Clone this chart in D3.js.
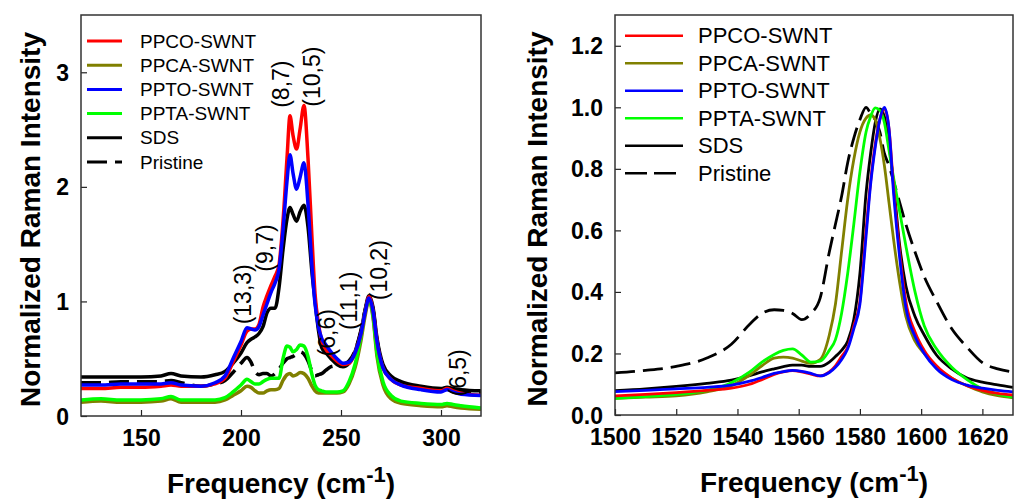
<!DOCTYPE html>
<html>
<head>
<meta charset="utf-8">
<script src="https://cdn.jsdelivr.net/npm/d3@7"></script>
<style>
  html, body { margin: 0; padding: 0; background: #fff; }
  svg { display: block; font-family: "Liberation Sans", Arial, sans-serif; }
</style>
</head>
<body>
<svg id="chart" width="1014" height="500"></svg>
<script>
// ---- Series names and colours ----
const seriesNames = ["PPCO-SWNT", "PPCA-SWNT", "PPTO-SWNT", "PPTA-SWNT", "SDS", "Pristine"];
const seriesColors = ["#ff0000", "#808000", "#0000ff", "#00ff00", "#000000", "#000000"];
const seriesDashed = [false, false, false, false, false, true];

// ---- RBM region (left panel) ----
const rbmShift = [120,130,140,150,160,165,170,180,187,192,196,200,203,205,207,209,211,213,215,217,219,221,223,224.5,226,227.8,229.5,231.5,233.5,235.5,237,238.7,240.3,242.5,245,248,251,254,257,260,262,264,266,268,271,275,280,290,300,303,306,310,320];
const ppcoRbm = [0.24,0.24,0.25,0.25,0.26,0.27,0.26,0.26,0.28,0.33,0.47,0.62,0.74,0.76,0.76,0.80,0.95,1.05,1.14,1.22,1.32,1.70,2.25,2.62,2.45,2.33,2.50,2.71,2.25,1.55,1.07,0.81,0.66,0.58,0.53,0.48,0.45,0.46,0.55,0.72,0.90,1.04,0.92,0.65,0.42,0.32,0.27,0.24,0.22,0.24,0.22,0.20,0.18];
const ppcaRbm = [0.12,0.13,0.12,0.12,0.13,0.15,0.12,0.12,0.12,0.14,0.18,0.22,0.26,0.25,0.22,0.20,0.20,0.22,0.23,0.23,0.24,0.31,0.36,0.37,0.35,0.36,0.38,0.37,0.33,0.26,0.22,0.20,0.20,0.20,0.20,0.20,0.21,0.28,0.42,0.66,0.87,1.01,0.86,0.52,0.27,0.15,0.11,0.09,0.08,0.09,0.08,0.07,0.06];
const pptoRbm = [0.27,0.27,0.28,0.28,0.28,0.29,0.27,0.26,0.29,0.35,0.50,0.65,0.77,0.76,0.75,0.78,0.88,0.98,1.08,1.16,1.28,1.62,2.05,2.28,2.12,1.98,2.08,2.21,1.85,1.30,0.98,0.78,0.68,0.62,0.56,0.50,0.46,0.47,0.55,0.72,0.90,1.03,0.92,0.65,0.42,0.32,0.27,0.23,0.21,0.23,0.21,0.19,0.18];
const pptaRbm = [0.14,0.15,0.14,0.14,0.15,0.17,0.14,0.14,0.14,0.16,0.21,0.27,0.32,0.30,0.28,0.28,0.30,0.32,0.33,0.33,0.33,0.50,0.61,0.60,0.56,0.58,0.62,0.61,0.52,0.36,0.27,0.23,0.22,0.21,0.21,0.21,0.22,0.30,0.45,0.70,0.90,1.02,0.88,0.55,0.30,0.18,0.13,0.11,0.10,0.11,0.10,0.09,0.07];
const sdsRbm  = [0.34,0.34,0.34,0.34,0.35,0.37,0.35,0.34,0.36,0.39,0.46,0.55,0.64,0.67,0.69,0.72,0.78,0.90,0.94,0.94,1.12,1.45,1.72,1.82,1.76,1.70,1.78,1.84,1.65,1.25,1.01,0.75,0.60,0.55,0.50,0.45,0.43,0.46,0.56,0.74,0.92,1.05,0.95,0.68,0.45,0.35,0.30,0.26,0.24,0.25,0.24,0.23,0.22];
const pristineRbm = [0.29,0.29,0.30,0.30,0.30,0.31,0.29,0.26,0.28,0.31,0.38,0.46,0.51,0.47,0.39,0.36,0.37,0.37,0.35,0.37,0.41,0.46,0.50,0.51,0.52,0.54,0.56,0.54,0.48,0.39,0.35,0.36,0.37,0.40,0.43,0.44,0.45,0.48,0.57,0.75,0.92,1.03,0.93,0.66,0.43,0.33,0.28,0.24,0.22,0.23,0.22,0.21,0.20];
const rbmSeries = [ppcoRbm, ppcaRbm, pptoRbm, pptaRbm, sdsRbm, pristineRbm];

const rbmTicksX = [150, 200, 250, 300];
const rbmTicksY = [0, 1, 2, 3];

// chirality assignments (n,m) written beside the RBM bands
const chiralityText  = ["(13,3)", "(9,7)", "(8,7)", "(10,5)", "(6,6)", "(11,1)", "(10,2)", "(6,5)"];
const chiralityShift = [201, 212, 220, 235.5, 243, 254, 269, 308.5];
const chiralityLevel = [0.80, 1.26, 2.69, 2.70, 0.52, 0.75, 1.01, 0.17];

// ---- G band region (right panel) ----
const gShift = [1500,1510,1520,1530,1538,1544,1548,1552,1555,1558,1561,1564,1567,1570,1572,1574,1576,1578,1580,1582,1583.5,1585,1586.5,1588,1589.5,1591,1593,1595,1598,1601,1605,1610,1615,1620,1625,1630];
const ppcoG = [0.062,0.067,0.073,0.080,0.087,0.100,0.115,0.132,0.140,0.144,0.140,0.133,0.127,0.140,0.160,0.190,0.220,0.290,0.370,0.600,0.760,0.880,0.960,0.995,0.930,0.740,0.530,0.370,0.270,0.210,0.160,0.120,0.095,0.080,0.070,0.065];
const ppcaG = [0.054,0.058,0.062,0.075,0.095,0.130,0.160,0.185,0.188,0.185,0.175,0.168,0.180,0.260,0.360,0.530,0.700,0.830,0.920,0.965,0.975,0.960,0.900,0.810,0.690,0.570,0.430,0.320,0.240,0.200,0.155,0.120,0.095,0.075,0.063,0.056];
const pptoG = [0.076,0.080,0.085,0.090,0.097,0.110,0.122,0.135,0.141,0.145,0.142,0.135,0.127,0.138,0.155,0.180,0.215,0.280,0.360,0.580,0.750,0.870,0.960,1.000,0.930,0.720,0.510,0.350,0.255,0.200,0.150,0.115,0.097,0.087,0.080,0.075];
const pptaG = [0.054,0.060,0.067,0.080,0.105,0.140,0.172,0.197,0.210,0.215,0.195,0.172,0.175,0.210,0.245,0.330,0.460,0.620,0.790,0.920,0.970,0.998,0.990,0.950,0.860,0.770,0.660,0.550,0.400,0.290,0.215,0.155,0.115,0.085,0.068,0.058];
const sdsG  = [0.079,0.085,0.093,0.103,0.113,0.128,0.140,0.150,0.157,0.162,0.162,0.158,0.158,0.172,0.190,0.210,0.240,0.310,0.460,0.720,0.850,0.950,0.995,0.970,0.880,0.750,0.550,0.420,0.320,0.260,0.195,0.150,0.120,0.107,0.098,0.090];
const pristineG = [0.137,0.145,0.158,0.185,0.230,0.295,0.330,0.342,0.340,0.330,0.310,0.330,0.380,0.530,0.620,0.710,0.820,0.900,0.960,1.000,0.980,0.960,0.920,0.850,0.810,0.760,0.690,0.620,0.530,0.450,0.370,0.280,0.220,0.170,0.150,0.140];
const gSeries = [ppcoG, ppcaG, pptoG, pptaG, sdsG, pristineG];

const gTicksX = [1500, 1520, 1540, 1560, 1580, 1600, 1620];
const gTicksY = [0, 0.2, 0.4, 0.6, 0.8, 1.0, 1.2];

const svg = d3.select("#chart");

function drawPanel(cfg) {
  const x = d3.scaleLinear().domain(cfg.xDomain).range([cfg.left, cfg.right]);
  const y = d3.scaleLinear().domain(cfg.yDomain).range([cfg.bottom, cfg.top]);
  const g = svg.append("g");

  const clipId = "clip-" + cfg.id;
  svg.append("defs").append("clipPath").attr("id", clipId)
    .append("rect").attr("x", cfg.left).attr("y", cfg.top)
    .attr("width", cfg.right - cfg.left).attr("height", cfg.bottom - cfg.top);

  // spectra
  const line = d3.line().curve(d3.curveMonotoneX)
    .x(d => x(d[0])).y(d => y(d[1]));
  const plot = g.append("g").attr("clip-path", `url(#${clipId})`);
  // draw order: dashed and black first, coloured on top
  const order = [5, 4, 1, 3, 0, 2];
  order.forEach(i => {
    const pts = cfg.xs.map((v, k) => [v, cfg.series[i][k]]);
    plot.append("path")
      .attr("d", line(pts))
      .attr("fill", "none")
      .attr("stroke", seriesColors[i])
      .attr("stroke-width", cfg.lineWidth)
      .attr("stroke-linejoin", "round")
      .attr("stroke-dasharray", seriesDashed[i] ? cfg.dash : null);
  });

  // axes with inward ticks
  const xAxis = d3.axisBottom(x).tickValues(cfg.ticksX).tickFormat(cfg.fmtX)
    .tickSizeInner(-6).tickSizeOuter(0).tickPadding(14);
  const yAxis = d3.axisLeft(y).tickValues(cfg.ticksY).tickFormat(cfg.fmtY)
    .tickSizeInner(-6).tickSizeOuter(0).tickPadding(12);

  const gx = g.append("g").attr("transform", `translate(0,${cfg.bottom})`).call(xAxis);
  const gy = g.append("g").attr("transform", `translate(${cfg.left},0)`).call(yAxis);
  [gx, gy].forEach(a => {
    a.select(".domain").remove();
    a.selectAll(".tick line").attr("stroke", "#222").attr("stroke-width", 1.2);
    a.selectAll(".tick text").attr("fill", "#000")
      .style("font-family", '"Liberation Sans", Arial, sans-serif')
      .style("font-weight", "bold").style("font-size", cfg.tickFont + "px");
  });
  gx.selectAll(".tick text").attr("dy", "0.71em");
  gy.selectAll(".tick text").attr("dy", "0.35em");

  // frame
  g.append("rect")
    .attr("x", cfg.left).attr("y", cfg.top)
    .attr("width", cfg.right - cfg.left).attr("height", cfg.bottom - cfg.top)
    .attr("fill", "none").attr("stroke", "#333").attr("stroke-width", 1.5);

  // axis titles
  const xt = g.append("text")
    .attr("x", (cfg.left + cfg.right) / 2).attr("y", cfg.xTitleY)
    .attr("text-anchor", "middle")
    .style("font-weight", "bold").style("font-size", "28px");
  xt.append("tspan").text("Frequency (cm");
  xt.append("tspan").attr("dy", -11).style("font-size", "22px").text("-1");
  xt.append("tspan").attr("dy", 11).text(")");

  g.append("text")
    .attr("transform", `translate(${cfg.yTitleX},${(cfg.top + cfg.bottom) / 2 + cfg.yTitleShift}) rotate(-90)`)
    .attr("text-anchor", "middle")
    .style("font-weight", "bold").style("font-size", cfg.yTitleFont + "px")
    .text("Normalized Raman Intensity");

  // legend
  const lg = g.append("g");
  seriesNames.forEach((name, i) => {
    const yy = cfg.legendTop + i * cfg.legendStep;
    lg.append("line")
      .attr("x1", cfg.legendX1).attr("x2", cfg.legendX2)
      .attr("y1", yy).attr("y2", yy)
      .attr("stroke", seriesColors[i]).attr("stroke-width", cfg.legendWidth)
      .attr("stroke-dasharray", seriesDashed[i] ? cfg.legendDash : null);
    lg.append("text")
      .attr("x", cfg.legendTextX).attr("y", yy)
      .attr("dy", "0.35em")
      .style("font-size", cfg.legendFont + "px")
      .text(name);
  });

  return { x, y, g };
}

const left = drawPanel({
  id: "rbm", left: 81, right: 481, top: 15, bottom: 416,
  xDomain: [120, 320], yDomain: [0, 3.5],
  xs: rbmShift, series: rbmSeries,
  ticksX: rbmTicksX, ticksY: rbmTicksY,
  fmtX: d3.format("d"), fmtY: d3.format("d"),
  tickFont: 23, lineWidth: 3.5, dash: "20,8",
  xTitleY: 493, yTitleX: 40, yTitleShift: 4, yTitleFont: 28,
  legendTop: 41, legendStep: 24.2, legendX1: 87, legendX2: 122,
  legendTextX: 140, legendFont: 19, legendWidth: 3, legendDash: "20,8"
});

const right = drawPanel({
  id: "gband", left: 615, right: 1013, top: 15, bottom: 415,
  xDomain: [1500, 1630], yDomain: [0, 1.3],
  xs: gShift, series: gSeries,
  ticksX: gTicksX, ticksY: gTicksY,
  fmtX: d3.format("d"), fmtY: d3.format(".1f"),
  tickFont: 23, lineWidth: 2.8, dash: "20,8",
  xTitleY: 492, yTitleX: 547, yTitleShift: 4, yTitleFont: 28,
  legendTop: 35.7, legendStep: 27.5, legendX1: 625, legendX2: 683,
  legendTextX: 698, legendFont: 22, legendWidth: 2.5, legendDash: "22,7"
});

// chirality labels on the RBM bands
chiralityText.forEach((t, i) => {
  left.g.append("text")
    .attr("transform", `translate(${left.x(chiralityShift[i])},${left.y(chiralityLevel[i])}) rotate(-90)`)
    .attr("text-anchor", "start")
    .attr("dy", "0.35em")
    .style("font-size", "23px")
    .text(t);
});
</script>
</body>
</html>
